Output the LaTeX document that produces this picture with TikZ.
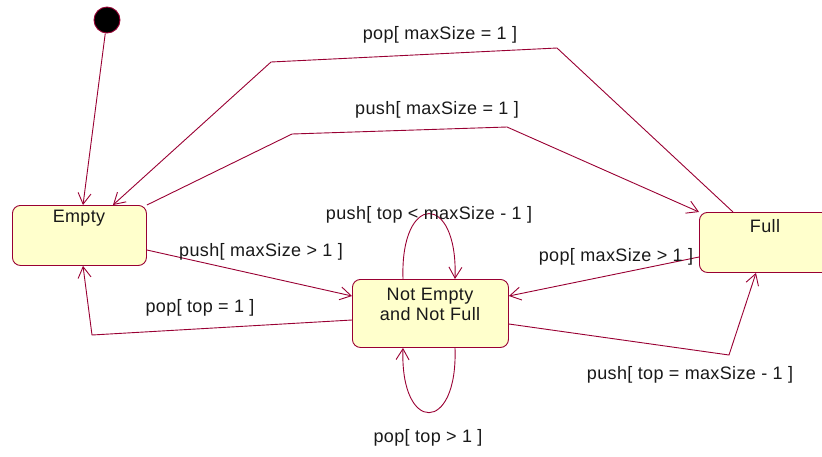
\documentclass[tikz,border=0pt]{standalone}
\usepackage{fontspec}
\setmainfont{Liberation Sans}[LetterSpace=2]
\usetikzlibrary{arrows.meta}
\definecolor{edgecol}{HTML}{990033}
\definecolor{statefill}{HTML}{FFFFCC}
\tikzset{
  statebox/.style={draw=edgecol, fill=statefill, line width=0.9pt, rounded corners=8pt,
    rectangle, inner sep=0pt, anchor=north west},
  edge/.style={draw=edgecol, line width=0.9pt,
    -{Straight Barb[length=11pt, width=13pt, line width=0.9pt]}},
  txt/.style={font=\fontsize{18}{21}\selectfont, inner sep=0pt, text=black!90},
}
\begin{document}
\begin{tikzpicture}[x=1pt, y=-1pt]
\useasboundingbox (0,0) rectangle (822,456);

% states
\node[circle, fill=black, draw=edgecol, line width=0.9pt, minimum size=26pt, inner sep=0pt] (init) at (107,20) {};
\node[statebox, minimum width=134pt, minimum height=60pt] (empty) at (12,205) {};
\node[statebox, minimum width=156pt, minimum height=68pt] (ne) at (352,279) {};
\node[statebox, minimum width=140pt, minimum height=60pt] (full) at (699,212) {};

\node[txt] (emptytxt) at (79,218) {Empty};
\node[txt, align=center] (netxt) at (430,304) {Not Empty\\[-1pt]and Not Full};
\node[txt] (fulltxt) at (765,226) {Full};

% waypoints of bent transitions
\coordinate (popmaxA) at (557,48);
\coordinate (popmaxB) at (271,62);
\coordinate (pushmaxA) at (292,134);
\coordinate (pushmaxB) at (507,127);
\coordinate (poptop) at (92,335);
\coordinate (pushtop) at (729,355);

% transitions
\draw[edge] (init) -- (empty.north -| 83,0);
\draw[edge] (full.north -| 733,0) -- (popmaxA) -- (popmaxB) -- (empty.north -| 113,0);
\draw[edge] (empty.north east) -- (pushmaxA) -- (pushmaxB) -- (full.north west);
\draw[edge] (empty.east |- 0,250) -- (ne.west |- 0,296);
\draw[edge] (ne.west |- 0,320) -- (poptop) -- (empty.south -| 83,0);
\draw[edge] (full.west |- 0,257) -- (ne.east |- 0,296);
\draw[edge] (ne.east |- 0,324) -- (pushtop) -- (full.south -| 756,0);
\draw[edge] (ne.north -| 403,0) .. controls (400,192) and (458,192) .. (ne.north -| 455,0);
\draw[edge] (ne.south -| 455,0) .. controls (458,434) and (400,434) .. (ne.south -| 403,0);

% guard labels
\node[txt] (l1) at (440,35) {pop[ maxSize = 1 ]};
\node[txt] (l2) at (437,110) {push[ maxSize = 1 ]};
\node[txt] (l3) at (429,215) {push[ top < maxSize - 1 ]};
\node[txt] (l4) at (261,252) {push[ maxSize > 1 ]};
\node[txt] (l5) at (200,308) {pop[ top = 1 ]};
\node[txt] (l6) at (616,257) {pop[ maxSize > 1 ]};
\node[txt] (l7) at (690,375) {push[ top = maxSize - 1 ]};
\node[txt] (l8) at (428,438) {pop[ top > 1 ]};
\end{tikzpicture}
\end{document}
